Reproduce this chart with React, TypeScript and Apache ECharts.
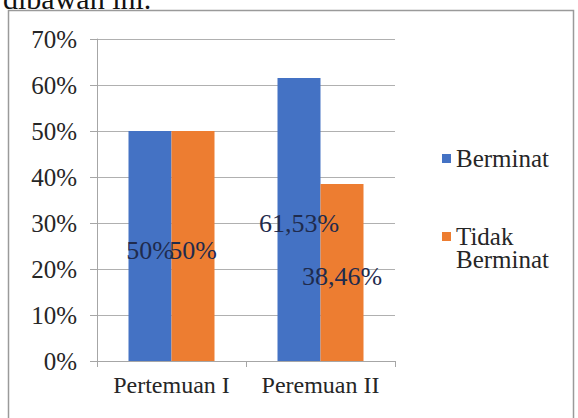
import React, { useEffect, useRef } from "react";
import * as echarts from "echarts";

const categories = ["Pertemuan I", "Peremuan II"];
const seriesNames = ["Berminat", "Tidak Berminat"];
const berminat = [50, 61.53];
const tidakBerminat = [50, 38.46];
const yTicks = [0, 10, 20, 30, 40, 50, 60, 70];
const headingText = "dibawah ini.";

const FONT = "Liberation Serif";

export default function App() {
  const ref = useRef<HTMLDivElement>(null);
  useEffect(() => {
    if (!ref.current) return;
    const chart = echarts.init(ref.current, null, { renderer: "svg" });
    const labelFmt = (p: any) => String(p.value).replace(".", ",") + "%";
    const labelStyle = {
      show: true,
      position: "inside",
      offset: [0, 4],
      formatter: labelFmt,
      fontSize: 26,
      fontFamily: FONT,
      color: "#1f2b4d",
    };
    chart.setOption({
      animation: false,
      backgroundColor: "#ffffff",
      graphic: [
        {
          type: "rect",
          shape: { x: 8.5, y: 10.5, width: 565, height: 420 },
          style: { fill: "none", stroke: "#9a9a9a", lineWidth: 1.5 },
          z: -1,
        },
        {
          type: "text",
          x: 3,
          y: -2,
          style: {
            text: headingText,
            font: '30px "Liberation Serif"',
            fill: "#111",
            verticalAlign: "middle",
          },
        },
      ],
      grid: { left: 97, right: 183, top: 39, bottom: 57, containLabel: false },
      legend: {
        orient: "vertical",
        left: 437,
        top: 141,
        itemWidth: 9,
        itemHeight: 9,
        itemGap: 30,
        icon: "rect",
        data: seriesNames,
        formatter: (name: string) =>
          name === "Tidak Berminat" ? "\nTidak\nBerminat" : name,
        textStyle: {
          fontSize: 25,
          fontFamily: FONT,
          color: "#262626",
          lineHeight: 23,
        },
      },
      xAxis: {
        type: "category",
        data: categories,
        axisLine: { show: true, lineStyle: { color: "#a6a6a6", width: 1 } },
        axisTick: { show: true, length: 6, alignWithLabel: false, lineStyle: { color: "#a6a6a6" } },
        axisLabel: {
          interval: 0,
          fontSize: 24,
          fontFamily: FONT,
          color: "#262626",
          margin: 12,
        },
      },
      yAxis: {
        type: "value",
        min: yTicks[0],
        max: yTicks[yTicks.length - 1],
        interval: 10,
        axisLine: { show: true, lineStyle: { color: "#a6a6a6", width: 1 } },
        axisTick: { show: true, length: 7, lineStyle: { color: "#a6a6a6" } },
        axisLabel: {
          formatter: "{value}%",
          fontSize: 25,
          fontFamily: FONT,
          color: "#262626",
          margin: 20,
        },
        splitLine: { show: true, lineStyle: { color: "#b0b0b0", width: 1 } },
      },
      series: [
        {
          name: seriesNames[0],
          type: "bar",
          data: berminat,
          barWidth: 43,
          barGap: "0%",
          itemStyle: { color: "#4472c4" },
          label: labelStyle,
        },
        {
          name: seriesNames[1],
          type: "bar",
          data: tidakBerminat,
          barWidth: 43,
          barGap: "0%",
          itemStyle: { color: "#ed7d31" },
          label: labelStyle,
        },
      ],
    });
    return () => chart.dispose();
  }, []);
  return (
    <div
      ref={ref}
      style={{ position: "absolute", left: 0, top: 0, width: 578, height: 418 }}
    />
  );
}
